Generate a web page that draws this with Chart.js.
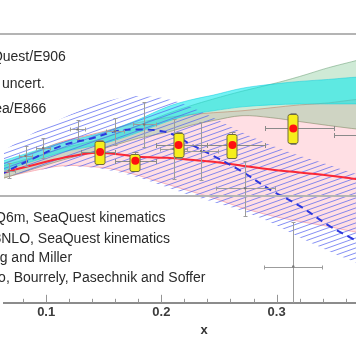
<!DOCTYPE html>
<html><head><meta charset="utf-8">
<script src="https://cdn.jsdelivr.net/npm/chart.js@4.4.1/dist/chart.umd.min.js"></script>
<style>
html,body{margin:0;padding:0;background:#fff;overflow:hidden;width:356px;height:364px;}
#wrap{position:absolute;left:0;top:0;width:408px;height:364px;}
</style></head><body>
<div id="wrap"><canvas id="c"></canvas></div>
<script>
// ---------- data ----------
const xGrid      = [0.06, 0.09, 0.115, 0.14, 0.16, 0.18, 0.205, 0.225, 0.245, 0.27, 0.295, 0.32, 0.345, 0.365, 0.41];
const pinkUpper  = [1.305,1.37,1.425,1.46,1.49,1.52,1.545,1.56,1.57,1.58,1.595,1.61,1.62,1.635,1.66];
const pinkLower  = [1.235,1.275,1.30,1.295,1.28,1.25,1.205,1.17,1.135,1.085,1.045,1.015,0.99,0.965,0.925];
const redCentral = [1.26,1.305,1.34,1.365,1.36,1.345,1.34,1.33,1.32,1.30,1.28,1.265,1.25,1.235,1.21];
const greenUpper = [1.295,1.345,1.39,1.425,1.46,1.505,1.565,1.605,1.64,1.68,1.715,1.755,1.80,1.83,1.90];
const greenLower = [1.23,1.285,1.33,1.37,1.405,1.44,1.47,1.505,1.53,1.555,1.545,1.525,1.505,1.49,1.46];
const cyanUpper  = [1.32,1.375,1.42,1.455,1.49,1.535,1.60,1.635,1.66,1.695,1.715,1.73,1.74,1.75,1.765];
const cyanLower  = [1.27,1.325,1.37,1.40,1.43,1.47,1.525,1.56,1.58,1.60,1.61,1.615,1.615,1.615,1.615];
const hatchUpper = [1.365,1.47,1.545,1.605,1.64,1.655,1.64,1.60,1.545,1.47,1.405,1.35,1.305,1.265,1.185];
const hatchLower = [1.24,1.275,1.295,1.29,1.27,1.24,1.19,1.15,1.115,1.07,1.01,0.935,0.865,0.815,0.70];
const blueCentral= [1.255,1.34,1.405,1.44,1.475,1.485,1.47,1.41,1.35,1.27,1.175,1.095,0.995,0.93,0.775];

const sqX    = [0.1468, 0.1774, 0.2149, 0.2617, 0.3145, 0.384];
const sqY    = [1.37, 1.325, 1.405, 1.405, 1.49, 1.455];
const sqXLo  = [0.13, 0.16, 0.195, 0.24, 0.29, 0.35];
const sqXHi  = [0.16, 0.195, 0.24, 0.29, 0.35, 0.45];
const sqStat = [0.06, 0.045, 0.065, 0.065, 0.08, 0.08];
const sqSysLo= [1.31, 1.275, 1.345, 1.34, 1.415, 1.39];
const sqSysHi= [1.425, 1.36, 1.465, 1.46, 1.565, 1.52];

const e866X  = [0.0677, 0.0821, 0.0974, 0.1272, 0.1596, 0.1851, 0.2106, 0.2345, 0.2728, 0.3145];
const e866Y  = [1.275, 1.35, 1.39, 1.485, 1.475, 1.51, 1.385, 1.375, 1.185, 0.785];
const e866EY = [0.04, 0.05, 0.05, 0.05, 0.07, 0.115, 0.155, 0.15, 0.14, 0.225];
const e866EX = [0.005, 0.006, 0.006, 0.0065, 0.008, 0.01, 0.012, 0.015, 0.0255, 0.025];

const majorTicks = [0.1, 0.2, 0.3];
const minorTicks = [0.08, 0.12, 0.14, 0.16, 0.18, 0.22, 0.24, 0.26, 0.28, 0.32, 0.34, 0.36, 0.38, 0.40];
const axisTitle = 'x';
const legendTop = ['SeaQuest/E906', 'Syst. uncert.', 'NuSea/E866'];
const legendBottom = ['CTEQ6m, SeaQuest kinematics', 'CT18NLO, SeaQuest kinematics', 'Alberg and Miller', 'Basso, Bourrely, Pasechnik and Soffer'];

// ---------- styles / layout ----------
const FONT = '"Liberation Sans", Arial, Helvetica, sans-serif';
const legendTextX = -33;
const legendTopBaselines = [61, 88, 113];
const legendBottomBaselines = [222, 243, 262, 282];
const legendBorderYs = [34, 196];

function pts(ys){ return xGrid.map((x,i)=>({x:x, y:ys[i]})); }

function makeHatch(){
  const W=14, H=5;
  const c=document.createElement('canvas'); c.width=W; c.height=H;
  const g=c.getContext('2d');
  g.strokeStyle='rgba(80,95,240,0.7)'; g.lineWidth=1;
  for (const k of [0, H, 2*H]) {
    g.beginPath(); g.moveTo(-2, k + 2*H/W); g.lineTo(W+2, k - (W+2)*H/W); g.stroke();
  }
  return g.createPattern(c, 'repeat');
}
const hatch = makeHatch();

const bandLine = (data, color, fill, bg, order, bw) => ({
  type:'line', data:pts(data), borderColor:color, borderWidth:bw, pointRadius:0,
  fill:fill, backgroundColor:bg, tension:0.35, order:order
});

const datasets = [
  { key:'sq', type:'line', showLine:false, data: sqX.map((x,i)=>({x:x,y:sqY[i]})),
    pointRadius:4, pointBackgroundColor:'#ff1010', pointBorderWidth:0, order:0 },
  { key:'e866', type:'line', showLine:false, data: e866X.map((x,i)=>({x:x,y:e866Y[i]})),
    pointRadius:1.2, pointBackgroundColor:'#777', pointBorderWidth:0, order:1 },
  { type:'line', data:pts(blueCentral), borderColor:'rgb(45,55,220)', borderWidth:2, borderDash:[7,5],
    pointRadius:0, fill:false, tension:0.35, order:2 },
  { type:'line', data:pts(redCentral), borderColor:'rgb(250,40,55)', borderWidth:2,
    pointRadius:0, fill:false, tension:0.35, order:3 },
  bandLine(hatchUpper, 'rgba(0,0,0,0)', '+1', hatch, 4, 0),
  bandLine(hatchLower, 'rgba(0,0,0,0)', false, 'rgba(0,0,0,0)', 5, 0),
  bandLine(cyanUpper, 'rgba(0,200,220,0.45)', '+1', 'rgba(0,232,235,0.55)', 6, 1),
  bandLine(cyanLower, 'rgba(0,200,220,0.45)', false, 'rgba(0,0,0,0)', 7, 1),
  bandLine(greenUpper, 'rgba(110,160,120,0.55)', '+1', 'rgba(95,185,120,0.3)', 8, 1),
  bandLine(greenLower, 'rgba(130,120,90,0.55)', false, 'rgba(0,0,0,0)', 9, 1),
  bandLine(pinkUpper, 'rgba(235,120,110,0.65)', '+1', 'rgba(255,150,165,0.3)', 10, 1),
  bandLine(pinkLower, 'rgba(245,150,160,0.65)', false, 'rgba(0,0,0,0)', 11, 1)
];

const annot = {
  id:'annot',
  beforeDatasetDraw(chart, args){
    const ds = chart.data.datasets[args.index];
    if (!ds.key) return;
    const xs=chart.scales.x, ys=chart.scales.y, ctx=chart.ctx, a=chart.chartArea;
    const X=v=>Math.round(xs.getPixelForValue(v))+0.5, Y=v=>Math.round(ys.getPixelForValue(v))+0.5;
    ctx.save();
    ctx.beginPath(); ctx.rect(a.left,a.top,a.right-a.left,a.bottom-a.top); ctx.clip();
    if (ds.key==='e866'){
      ctx.strokeStyle='#9c9c9c'; ctx.lineWidth=1;
      e866X.forEach((x,i)=>{
        const px=X(x), py=Y(e866Y[i]), x0=X(x-e866EX[i]), x1=X(x+e866EX[i]);
        const y0=Y(e866Y[i]-e866EY[i]), y1=Y(e866Y[i]+e866EY[i]);
        ctx.beginPath();
        ctx.moveTo(x0,py); ctx.lineTo(x1,py); ctx.moveTo(px,y0); ctx.lineTo(px,y1);
        ctx.moveTo(x0,py-2); ctx.lineTo(x0,py+2); ctx.moveTo(x1,py-2); ctx.lineTo(x1,py+2);
        ctx.moveTo(px-2,y0); ctx.lineTo(px+2,y0); ctx.moveTo(px-2,y1); ctx.lineTo(px+2,y1);
        ctx.stroke();
      });
    } else if (ds.key==='sq'){
      ctx.strokeStyle='#8a8a8a'; ctx.lineWidth=1;
      sqX.forEach((x,i)=>{
        const px=X(x), py=Y(sqY[i]), x0=X(sqXLo[i]), x1=X(sqXHi[i]);
        const y0=Y(sqY[i]-sqStat[i]), y1=Y(sqY[i]+sqStat[i]);
        ctx.beginPath();
        ctx.moveTo(x0,py); ctx.lineTo(x1,py); ctx.moveTo(px,y0); ctx.lineTo(px,y1);
        ctx.moveTo(x0,py-2.5); ctx.lineTo(x0,py+2.5); ctx.moveTo(x1,py-2.5); ctx.lineTo(x1,py+2.5);
        ctx.moveTo(px-3,y0); ctx.lineTo(px+3,y0); ctx.moveTo(px-3,y1); ctx.lineTo(px+3,y1);
        ctx.stroke();
      });
      sqX.forEach((x,i)=>{
        const px=X(x), yt=Y(sqSysHi[i]), yb=Y(sqSysLo[i]);
        ctx.beginPath();
        ctx.roundRect(px-5.5, yt, 10, yb-yt, 2);
        ctx.fillStyle='#f6ee1c'; ctx.fill();
        ctx.strokeStyle='#6f6b3c'; ctx.lineWidth=1; ctx.stroke();
      });
    }
    ctx.restore();
  },
  afterDatasetsDraw(chart){
    const xs=chart.scales.x, ctx=chart.ctx, a=chart.chartArea;
    ctx.save();
    ctx.strokeStyle='#959595'; ctx.lineWidth=1;
    ctx.beginPath();
    majorTicks.forEach(v=>{ const p=Math.round(xs.getPixelForValue(v))+0.5; ctx.moveTo(p,a.bottom); ctx.lineTo(p,a.bottom-8); });
    minorTicks.forEach(v=>{ const p=Math.round(xs.getPixelForValue(v))+0.5; ctx.moveTo(p,a.bottom); ctx.lineTo(p,a.bottom-4); });
    ctx.stroke();
    ctx.strokeStyle='#b4b4b4'; ctx.lineWidth=2;
    ctx.beginPath();
    legendBorderYs.forEach(y=>{ ctx.moveTo(0,y); ctx.lineTo(chart.width,y); });
    ctx.stroke();
    ctx.fillStyle='#2a2a2a'; ctx.font='14px '+FONT; ctx.textAlign='left'; ctx.textBaseline='alphabetic';
    legendTop.forEach((t,i)=>ctx.fillText(t, legendTextX, legendTopBaselines[i]));
    legendBottom.forEach((t,i)=>ctx.fillText(t, legendTextX, legendBottomBaselines[i]));
    ctx.restore();
  }
};

new Chart(document.getElementById('c'), {
  type:'line',
  data:{ datasets },
  options:{
    responsive:true, maintainAspectRatio:false, animation:false, devicePixelRatio:1,
    layout:{ padding:{ left:0, right:0, top:0, bottom:26 } },
    plugins:{ legend:{display:false}, tooltip:{enabled:false} },
    scales:{
      x:{
        type:'linear', min:0.0634, max:0.4106,
        afterBuildTicks:(s)=>{ s.ticks = majorTicks.map(v=>({value:v})); },
        grid:{ display:true, drawOnChartArea:false, drawTicks:false, color:'rgba(0,0,0,0)' },
        border:{ display:true, color:'#8c8c8c', width:2 },
        ticks:{ padding:2, color:'#3c3c3c', font:{ family:FONT, size:13, weight:'bold' },
                callback:(v)=>Number(v).toFixed(1), maxRotation:0, autoSkip:false },
        title:{ display:true, text:axisTitle, color:'#333', font:{ family:FONT, size:13, weight:'bold' }, padding:{top:0,bottom:0} }
      },
      y:{ type:'linear', display:false, min:0.6, max:2.125 }
    }
  },
  plugins:[annot]
});
</script>
</body></html>
